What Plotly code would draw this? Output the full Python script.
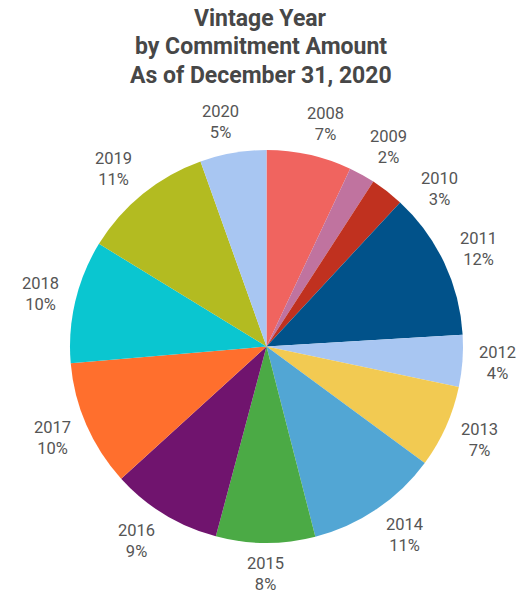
import math
import plotly.graph_objects as go

# Vintage-year share of total commitments (percent of total)
years = ["2008", "2009", "2010", "2011", "2012", "2013", "2014",
         "2015", "2016", "2017", "2018", "2019", "2020"]
shares = [7.0, 2.15, 2.75, 12.15, 4.25, 6.8, 10.9,
          8.15, 9.1, 10.4, 10.1, 10.8, 5.45]
colors = ["#F0645F", "#C0739F", "#C0311F", "#01528A", "#A8C6F2", "#F2CA52",
          "#52A6D4", "#4BAA45", "#70146E", "#FF6F2D", "#0AC6D0", "#B3BB21",
          "#A8C6F2"]
title_lines = ["Vintage Year", "by Commitment Amount", "As of December 31, 2020"]

W, H = 520, 593
CX, CY, R = 266.5, 346.5, 196.5          # pie centre and radius in pixels
LABEL_FONT = 16.5
HALF_W, HALF_H = 19.0, 21.0              # half size of a two-line label box
OFFSET = 16.5                            # distance of label anchor beyond the rim

fig = go.Figure(
    go.Pie(
        labels=years,
        values=shares,
        sort=False,
        direction="clockwise",
        rotation=0,
        marker=dict(colors=colors, line=dict(width=0)),
        textinfo="none",
        hoverinfo="label+percent",
        domain=dict(x=[(CX - R) / W, (CX + R) / W],
                    y=[1 - (CY + R) / H, 1 - (CY - R) / H]),
        showlegend=False,
    )
)

# Outside labels: mid-angle of each slice (clockwise from 12 o'clock)
total = sum(shares)
angles, acc = [], 0.0
for v in shares:
    angles.append((acc + v / 2) / total * 360.0)
    acc += v


def label_centre(phi):
    t = math.radians(phi)
    s, c = math.sin(t), math.cos(t)
    d = R + OFFSET
    x = CX + d * s + HALF_W * max(-1.0, min(1.0, 3.0 * s))
    y = CY - (d + 15.0) * c
    return x, y


def overlaps(a, b, pad=12.0):
    return (abs(a[0] - b[0]) < 2 * HALF_W + pad and
            abs(a[1] - b[1]) < 2 * HALF_H + pad / 2)


# place labels in order, pushing a label clockwise while it hits the previous one
centres = []
for i, phi in enumerate(angles):
    pos = label_centre(phi)
    while centres and overlaps(pos, centres[-1]):
        phi += 0.25
        pos = label_centre(phi)
    centres.append(pos)

pct = [round(v / total * 100) for v in shares]
annotations = []
for yr, p, (x, y) in zip(years, pct, centres):
    annotations.append(dict(
        x=x / W, y=1 - y / H, xref="paper", yref="paper",
        text=f"{yr}<br>{p}%", showarrow=False,
        xanchor="center", yanchor="middle", align="center",
        font=dict(family="Roboto", size=LABEL_FONT, color="#555555"),
    ))

for line, ymid in zip(title_lines, [18.5, 46.8, 75.1]):
    annotations.append(dict(
        x=260.5 / W, y=1 - ymid / H, xref="paper", yref="paper",
        text=f"<b>{line}</b>", showarrow=False,
        xanchor="center", yanchor="middle",
        font=dict(family="Roboto", size=23, color="#474747"),
    ))

fig.update_layout(
    width=W,
    height=H,
    margin=dict(l=0, r=0, t=0, b=0),
    paper_bgcolor="white",
    annotations=annotations,
)

fig.write_html("out.html")
